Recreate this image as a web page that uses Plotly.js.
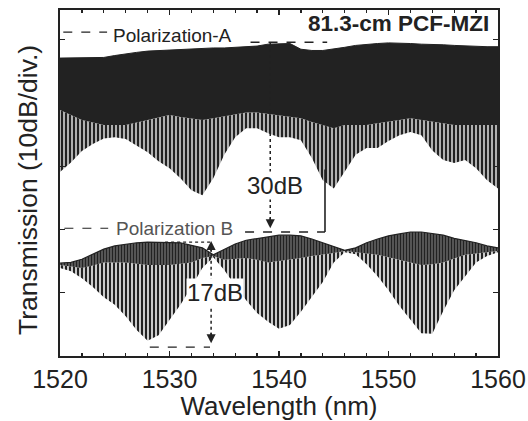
<!DOCTYPE html>
<html>
<head>
<meta charset="utf-8">
<script src="https://cdn.plot.ly/plotly-3.0.1.min.js"></script>
<style>html,body{margin:0;padding:0;background:#fff;}#chart{width:528px;height:421px;}</style>
</head>
<body>
<div id="chart"></div>
<script>
// Wavelength grid (nm)
const wavelength = [1520,1521,1522,1523,1524,1525,1526,1527,1528,1529,1530,1531,1532,1533,1534,1535,1536,1537,1538,1539,1540,
                    1541,1542,1543,1544,1545,1546,1547,1548,1549,1550,1551,1552,1553,1554,1555,1556,1557,1558,1559,1560];
// Polarization-A fringe envelopes (dB, relative)
const polA_upper = [47.1,47.1,47.2,47.2,47.2,47.5,47.8,48.0,48.2,48.3,48.4,48.5,48.6,48.6,48.7,48.7,48.8,48.8,49.0,49.3,49.4,
                    49.4,48.5,48.3,48.3,48.5,48.8,49.1,49.3,49.4,49.5,49.5,49.4,49.3,49.3,49.2,49.1,49.0,49.0,48.9,48.9];
const polA_dense = [38.9,38.1,37.3,36.9,36.5,36.5,36.5,36.9,37.3,37.7,38.1,37.8,37.6,37.3,37.6,37.9,38.1,38.5,38.5,38.3,38.1,
                    37.9,37.6,37.0,36.5,36.0,36.5,36.5,36.5,36.8,37.0,37.3,37.6,37.3,37.0,36.8,36.5,36.5,36.5,36.5,36.5];
const polA_lower = [29.1,30.6,32.4,33.5,34.4,34.6,34.3,33.3,32.2,30.8,29.7,28.1,26.2,25.4,28.1,31.8,34.6,36.0,36.0,35.2,34.6,
                    34.6,34.1,31.3,27.8,26.5,29.1,31.8,32.9,32.9,34.0,34.9,35.4,34.9,32.5,31.0,30.5,31.0,29.7,27.8,26.5];
// Polarization-B fringe envelopes (dB, relative)
const polB_upper = [14.7,14.8,15.3,16.1,16.9,17.4,17.7,17.9,18.0,18.0,18.0,17.9,17.5,17.1,16.0,16.9,17.7,18.3,18.6,18.8,19.1,
                    19.1,19.0,18.5,17.9,17.2,16.7,17.1,17.9,18.5,19.0,19.3,19.6,19.6,19.4,19.1,18.6,18.3,17.9,17.4,17.1];
const polB_dense = [14.4,14.2,13.9,14.3,14.8,14.8,14.8,14.6,14.4,14.4,14.4,14.6,14.8,15.5,15.8,15.2,15.3,15.5,15.2,14.8,15.0,
                    15.2,15.5,15.8,16.0,16.3,16.6,16.4,16.2,16.0,15.6,15.2,14.8,14.4,14.5,14.8,15.4,16.0,16.2,16.4,16.6];
const polB_lower = [13.9,13.4,12.3,10.9,9.3,8.1,6.3,4.1,2.4,3.3,5.7,8.1,10.9,13.9,15.6,13.6,11.1,8.8,6.8,5.4,4.3,
                    4.9,7.0,9.3,11.7,14.8,16.4,16.1,14.5,12.6,10.4,7.9,5.7,3.6,3.5,7.1,10.4,12.6,14.8,15.8,16.4];
const xTicks = [1520,1530,1540,1550,1560];
const xTickLabels = ['1520','1530','1540','1550','1560'];
const seriesNames = ['Polarization-A','Polarization B'];
const diffLabels = ['30dB','17dB'];

const INK = '#222222';
const FONT = 'Liberation Sans, Arial, Helvetica, sans-serif';

const traces = [
  {x: wavelength, y: polA_upper, type: 'scatter', mode: 'lines', line: {color: INK, width: 1}, hoverinfo: 'skip', showlegend: false},
  {x: wavelength, y: polA_dense, type: 'scatter', mode: 'lines', line: {color: INK, width: 0}, fill: 'tonexty', fillcolor: INK, hoverinfo: 'skip', showlegend: false},
  {x: wavelength, y: polA_lower, type: 'scatter', mode: 'lines', line: {color: INK, width: 0}, fill: 'tonexty', fillcolor: 'rgba(0,0,0,0)',
   fillpattern: {shape: '|', fgcolor: INK, bgcolor: 'rgba(255,255,255,0)', size: 4, solidity: 0.68}, hoverinfo: 'skip', showlegend: false},
  {x: wavelength, y: polB_upper, type: 'scatter', mode: 'lines', line: {color: INK, width: 1.2}, hoverinfo: 'skip', showlegend: false},
  {x: wavelength, y: polB_dense, type: 'scatter', mode: 'lines', line: {color: INK, width: 0}, fill: 'tonexty', fillcolor: 'rgba(0,0,0,0)',
   fillpattern: {shape: '|', fgcolor: INK, bgcolor: 'rgba(255,255,255,0)', size: 3, solidity: 0.85}, hoverinfo: 'skip', showlegend: false},
  {x: wavelength, y: polB_lower, type: 'scatter', mode: 'lines', line: {color: INK, width: 0}, fill: 'tonexty', fillcolor: 'rgba(0,0,0,0)',
   fillpattern: {shape: '|', fgcolor: INK, bgcolor: 'rgba(255,255,255,0)', size: 4, solidity: 0.62}, hoverinfo: 'skip', showlegend: false}
];

const dashLine = (x0, x1, y0, y1, dash, w) => ({type: 'line', xref: 'x', yref: 'y', x0: x0, x1: x1, y0: y0, y1: y1,
  line: {color: INK, width: w || 1.3, dash: dash}});

const shapes = [
  // legend samples
  dashLine(1520.3, 1524.3, 51.2, 51.2, 'dash', 1.4),
  dashLine(1520.4, 1524.4, 20.2, 20.2, 'dash', 1.2),
  // A reference level and B reference level
  dashLine(1537.4, 1544.4, 49.6, 49.6, 'dash', 1.3),
  dashLine(1536.9, 1544.2, 19.6, 19.6, 'dash', 1.3),
  dashLine(1544.2, 1544.2, 19.6, 29.5, 'solid', 1.6),
  // 30dB arrow shaft
  dashLine(1539.2, 1539.2, 21.5, 49.6, 'dot', 1.5),
  // 17dB markers
  dashLine(1529.6, 1533.8, 18.0, 18.0, 'dot', 1.3),
  dashLine(1533.8, 1533.8, 3.2, 17.0, 'dot', 1.5),
  dashLine(1528.2, 1533.7, 1.4, 1.4, 'dash', 1.3)
];

const annotations = [
  {text: '81.3-cm PCF-MZI', x: 1550.9, y: 52.6, xref: 'x', yref: 'y', showarrow: false,
   font: {family: FONT, size: 22.5, color: INK, weight: 'bold'}},
  {text: seriesNames[0], x: 1530.3, y: 50.7, xref: 'x', yref: 'y', showarrow: false,
   font: {family: FONT, size: 19, color: INK}},
  {text: seriesNames[1], x: 1530.5, y: 20.1, xref: 'x', yref: 'y', showarrow: false,
   font: {family: FONT, size: 19, color: '#555555'}},
  {text: diffLabels[0], x: 1539.6, y: 27.0, xref: 'x', yref: 'y', showarrow: false, bgcolor: '#ffffff', borderpad: 0,
   font: {family: FONT, size: 24, color: INK}},
  {text: diffLabels[1], x: 1534.2, y: 10.0, xref: 'x', yref: 'y', showarrow: false, bgcolor: '#ffffff', borderpad: 0,
   font: {family: FONT, size: 24, color: INK}},
  // y-axis title placed as rotated text
  {text: 'Transmission (10dB/div.)', x: -0.073, y: 0.48, xref: 'paper', yref: 'paper', showarrow: false,
   textangle: -90, xanchor: 'center', yanchor: 'middle', font: {family: FONT, size: 26.5, color: INK}},
  // arrow heads
  {text: '', x: 1539.2, y: 20.2, xref: 'x', yref: 'y', showarrow: true, ax: 0, ay: -12,
   arrowhead: 2, arrowsize: 1.3, arrowwidth: 1.4, arrowcolor: INK},
  {text: '', x: 1533.8, y: 18.2, xref: 'x', yref: 'y', showarrow: true, ax: 0, ay: 12,
   arrowhead: 2, arrowsize: 1.3, arrowwidth: 1.4, arrowcolor: INK},
  {text: '', x: 1533.8, y: 2.0, xref: 'x', yref: 'y', showarrow: true, ax: 0, ay: -12,
   arrowhead: 2, arrowsize: 1.3, arrowwidth: 1.4, arrowcolor: INK}
];

const layout = {
  width: 528, height: 421,
  margin: {l: 60, r: 30, t: 10, b: 65, pad: 0},
  paper_bgcolor: '#ffffff', plot_bgcolor: '#ffffff',
  showlegend: false,
  font: {family: FONT, color: INK},
  xaxis: {
    range: [1520, 1560], tickvals: xTicks, ticktext: xTickLabels,
    ticks: 'inside', ticklen: 5, tickwidth: 1.3, tickcolor: INK,
    minor: {dtick: 2, ticks: 'inside', ticklen: 3, tickcolor: INK},
    showline: true, linecolor: INK, linewidth: 1.6, mirror: 'ticks',
    showgrid: false, zeroline: false,
    tickfont: {family: FONT, size: 25, color: INK},
    title: {text: 'Wavelength (nm)', font: {family: FONT, size: 26, color: INK}, standoff: 4},
    automargin: false
  },
  yaxis: {
    range: [0, 54.7], dtick: 10, tick0: 0,
    ticks: 'inside', ticklen: 5, tickwidth: 1.3, tickcolor: INK,
    showticklabels: false,
    showline: true, linecolor: INK, linewidth: 1.8, mirror: 'ticks',
    showgrid: false, zeroline: false,
    automargin: false
  },
  shapes: shapes,
  annotations: annotations
};

Plotly.newPlot('chart', traces, layout, {staticPlot: true, displayModeBar: false});
</script>
</body>
</html>
